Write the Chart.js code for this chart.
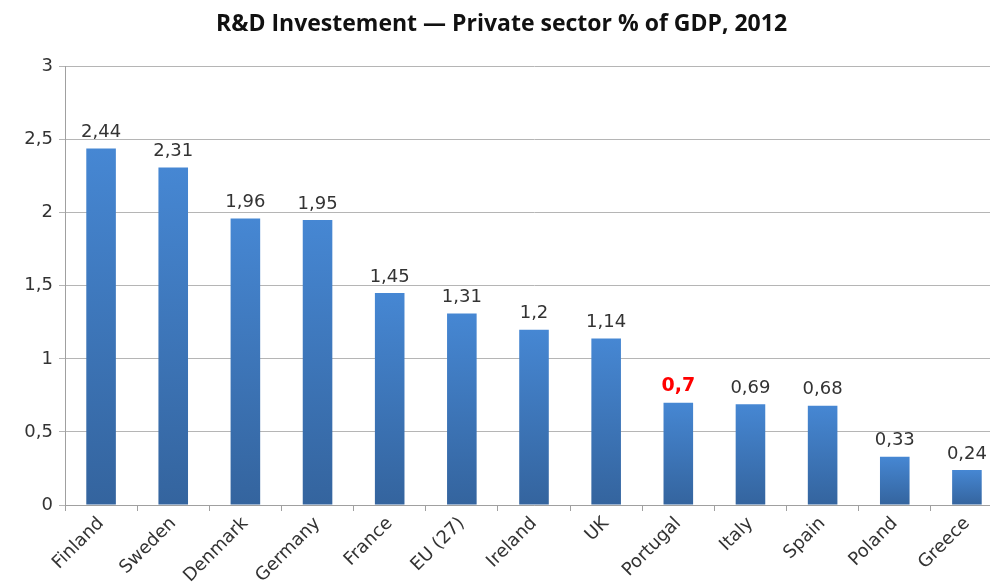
<!DOCTYPE html>
<html>
<head>
<meta charset="utf-8">
<script src="https://cdn.jsdelivr.net/npm/chart.js@4"></script>
<style>
html,body{margin:0;padding:0;background:#fff;overflow:hidden;width:990px;height:588px;}
#wrap{position:relative;width:1003px;height:588px;}
</style>
</head>
<body>
<div id="wrap"><canvas id="c" width="1003" height="588"></canvas></div>
<script>
const countries = ["Finland","Sweden","Denmark","Germany","France","EU (27)","Ireland","UK","Portugal","Italy","Spain","Poland","Greece"];
const values = [2.44,2.31,1.96,1.95,1.45,1.31,1.2,1.14,0.7,0.69,0.68,0.33,0.24];
const highlight = "Portugal";
const yTicks = [0,0.5,1,1.5,2,2.5,3];
const titleText = "R&D Investement \u2014 Private sector % of GDP, 2012";

const fmt = v => String(v).replace('.', ',');

const labelPlugin = {
  id: 'barLabels',
  afterDatasetsDraw(chart) {
    const ctx = chart.ctx;
    const meta = chart.getDatasetMeta(0);
    ctx.save();
    ctx.textAlign = 'center';
    ctx.textBaseline = 'bottom';
    meta.data.forEach((bar, i) => {
      const hl = countries[i] === highlight;
      ctx.font = (hl ? 'bold 19px' : '18px') + ' "DejaVu Sans", Verdana, sans-serif';
      ctx.fillStyle = hl ? '#ff0000' : '#333333';
      ctx.fillText(fmt(values[i]), bar.x, bar.y - 7);
    });
    ctx.restore();
  }
};

new Chart(document.getElementById('c'), {
  type: 'bar',
  data: {
    labels: countries,
    datasets: [{
      data: values,
      backgroundColor(context) {
        const chart = context.chart;
        const ca = chart.chartArea;
        if (!ca) return '#3f79bf';
        const y = chart.scales.y;
        const top = y.getPixelForValue(context.parsed ? context.parsed.y : values[context.dataIndex]);
        const bottom = y.getPixelForValue(0);
        const g = chart.ctx.createLinearGradient(0, top, 0, bottom);
        g.addColorStop(0, '#4687d3');
        g.addColorStop(1, '#34649e');
        return g;
      },
      borderWidth: 0,
      barPercentage: 0.41,
      categoryPercentage: 1.0
    }]
  },
  options: {
    responsive: false,
    animation: false,
    layout: { padding: { left: 0, right: 0, top: 0, bottom: 0 } },
    plugins: {
      legend: { display: false },
      tooltip: { enabled: false },
      title: {
        display: true,
        text: titleText,
        color: '#111111',
        font: { family: '"Open Sans", sans-serif', size: 23, weight: 'bold', lineHeight: 1.2 },
        padding: { top: 11, bottom: 28 }
      }
    },
    scales: {
      x: {
        offset: true,
        grid: { display: true, offset: true, drawOnChartArea: false, drawTicks: true, tickLength: 6, color: '#a0a0a0' },
        border: { display: true, color: '#a0a0a0' },
        ticks: {
          minRotation: 45, maxRotation: 45, autoSkip: false,
          color: '#333333',
          font: { family: '"DejaVu Sans", Verdana, sans-serif', size: 18 },
          padding: 2
        },
        afterFit(scale) { scale.height = 83; }
      },
      y: {
        min: 0, max: 3,
        afterBuildTicks(scale) { scale.ticks = yTicks.map(v => ({ value: v })); },
        grid: { color: '#b5b5b5', tickLength: 6, drawTicks: true },
        border: { display: true, color: '#a0a0a0' },
        ticks: {
          color: '#333333',
          font: { family: '"DejaVu Sans", Verdana, sans-serif', size: 18 },
          padding: 6,
          callback: v => fmt(v)
        },
        afterFit(scale) { scale.width = 65; }
      }
    }
  },
  plugins: [labelPlugin]
});
</script>
</body>
</html>
